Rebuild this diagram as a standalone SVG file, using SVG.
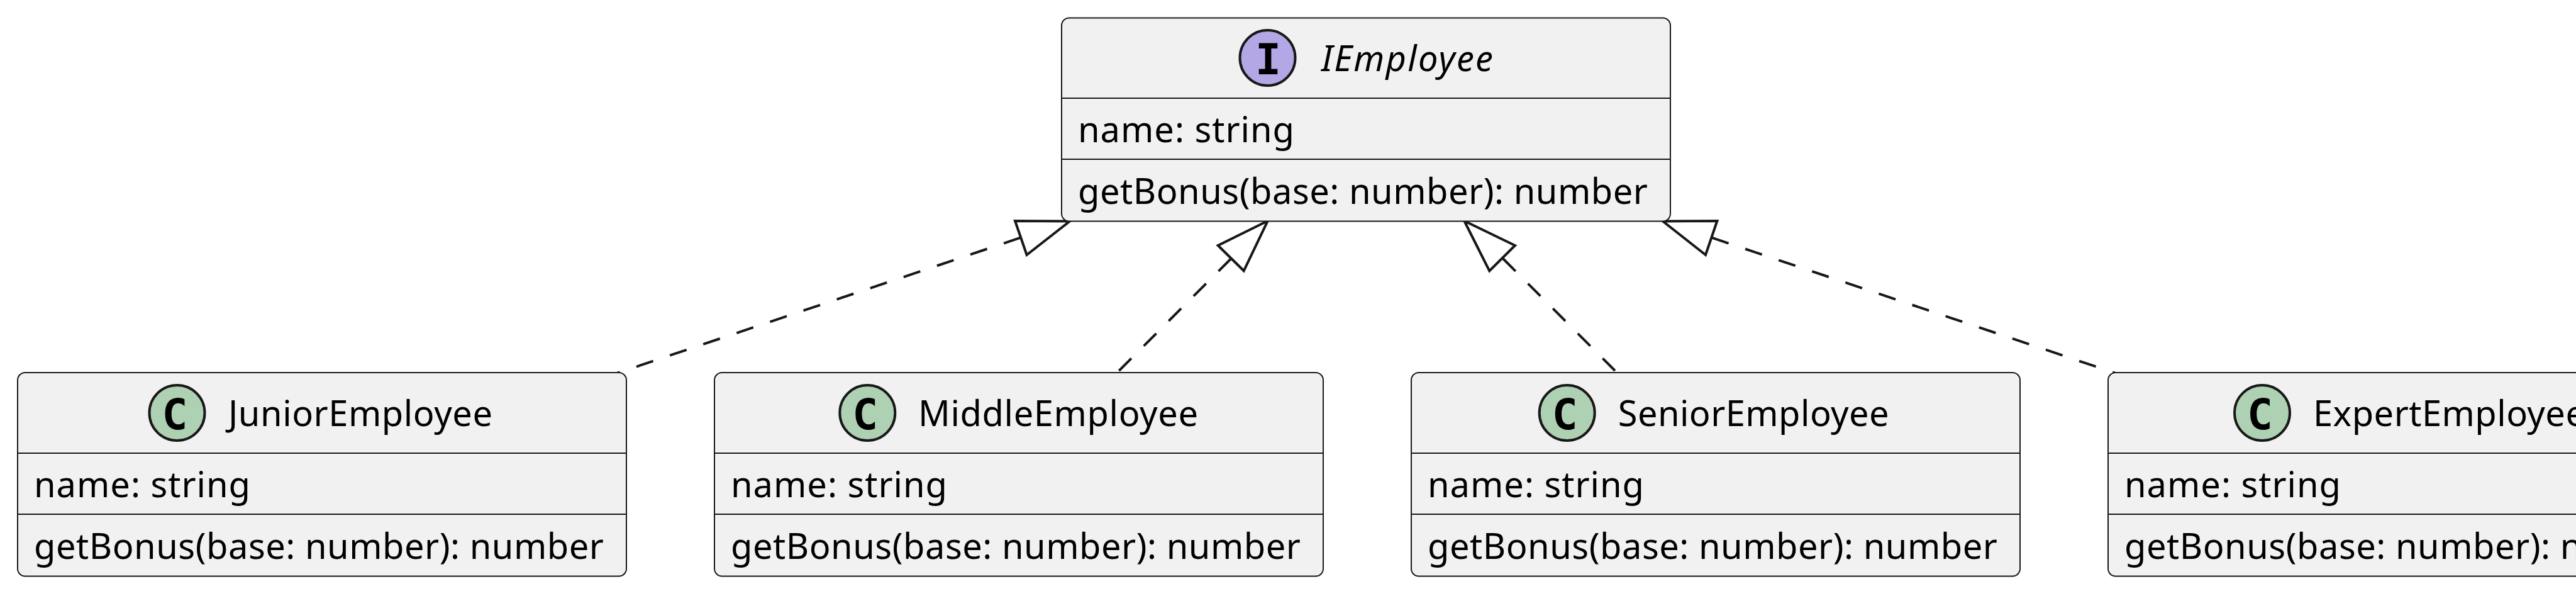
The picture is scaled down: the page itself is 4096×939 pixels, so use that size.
<svg xmlns="http://www.w3.org/2000/svg" width="4096" height="939" viewBox="0 0 4096 939">
<style>
.box{fill:#F1F1F1;stroke:#181818;stroke-width:2}
.div{stroke:#181818;stroke-width:2}
.t{font-family:"Noto Sans",sans-serif;font-size:56px;fill:#000}
.i{font-style:italic}
.sp{font-family:"DejaVu Sans Mono",monospace;font-weight:bold;font-size:68px;fill:#000;text-anchor:middle}
.ci{fill:#ADD1B2;stroke:#181818;stroke-width:4}
.ii{fill:#B4A7E5;stroke:#181818;stroke-width:4}
.dash{fill:none;stroke:#181818;stroke-width:4;stroke-dasharray:28 28}
.head{fill:#fff;stroke:#181818;stroke-width:4}
</style>
<rect width="4096" height="939" fill="#fff"/>
<g id="connectors">
<path class="dash" d="M1622.6 377.7L960 600"/><polygon class="head" points="1701,351.5 1614,351 1632.6,405"/>
<path class="dash" d="M1957.3 411L1779.3 589"/><polygon class="head" points="2015.7,351 1936.7,390 1977.7,430.3"/>
<path class="dash" d="M2390 411L2568 589"/><polygon class="head" points="2328.3,351 2409,390 2368.3,430.3"/>
<path class="dash" d="M2722 377.7L3385 600"/><polygon class="head" points="2644,351.5 2730.4,351 2712,405"/>
</g>
<g id="IEmployee">
<rect class="box" x="1688" y="28.5" width="968" height="323" rx="12"/>
<ellipse class="ii" cx="2015.5" cy="92" rx="44" ry="44"/><text class="sp" x="2016.5" y="117.5">I</text>
<text class="t i" x="2101" y="112.7" textLength="273">IEmployee</text>
<line class="div" x1="1689" y1="156" x2="2655" y2="156"/><text class="t" x="1714" y="226" textLength="344">name: string</text>
<line class="div" x1="1689" y1="253" x2="2655" y2="253"/><text class="t" x="1714" y="323.5" textLength="906">getBonus(base: number): number</text>
</g>
<g id="JuniorEmployee">
<rect class="box" x="28" y="592" width="968" height="323.5" rx="12"/>
<ellipse class="ci" cx="281.5" cy="656" rx="44" ry="44"/><text class="sp" x="278" y="681.5">C</text>
<text class="t" x="363" y="676.7" textLength="420">JuniorEmployee</text>
<line class="div" x1="29" y1="720" x2="995" y2="720"/><text class="t" x="54" y="790" textLength="344">name: string</text>
<line class="div" x1="29" y1="817" x2="995" y2="817"/><text class="t" x="54" y="887.5" textLength="906">getBonus(base: number): number</text>
</g>
<g id="MiddleEmployee">
<rect class="box" x="1136" y="592" width="968" height="323.5" rx="12"/>
<ellipse class="ci" cx="1379.3" cy="656" rx="44" ry="44"/><text class="sp" x="1375.8" y="681.5">C</text>
<text class="t" x="1460" y="676.7" textLength="445">MiddleEmployee</text>
<line class="div" x1="1137" y1="720" x2="2103" y2="720"/><text class="t" x="1162" y="790" textLength="344">name: string</text>
<line class="div" x1="1137" y1="817" x2="2103" y2="817"/><text class="t" x="1162" y="887.5" textLength="906">getBonus(base: number): number</text>
</g>
<g id="SeniorEmployee">
<rect class="box" x="2244" y="592" width="968" height="323.5" rx="12"/>
<ellipse class="ci" cx="2491.7" cy="656" rx="44" ry="44"/><text class="sp" x="2488.2" y="681.5">C</text>
<text class="t" x="2572.7" y="676.7" textLength="431">SeniorEmployee</text>
<line class="div" x1="2245" y1="720" x2="3211" y2="720"/><text class="t" x="2270" y="790" textLength="344">name: string</text>
<line class="div" x1="2245" y1="817" x2="3211" y2="817"/><text class="t" x="2270" y="887.5" textLength="906">getBonus(base: number): number</text>
</g>
<g id="ExpertEmployee">
<rect class="box" x="3352" y="592" width="968" height="323.5" rx="12"/>
<ellipse class="ci" cx="3597" cy="656" rx="44" ry="44"/><text class="sp" x="3593.5" y="681.5">C</text>
<text class="t" x="3678" y="676.7" textLength="433">ExpertEmployee</text>
<line class="div" x1="3353" y1="720" x2="4320" y2="720"/><text class="t" x="3378" y="790" textLength="344">name: string</text>
<line class="div" x1="3353" y1="817" x2="4320" y2="817"/><text class="t" x="3378" y="887.5" textLength="906">getBonus(base: number): number</text>
</g>
</svg>
